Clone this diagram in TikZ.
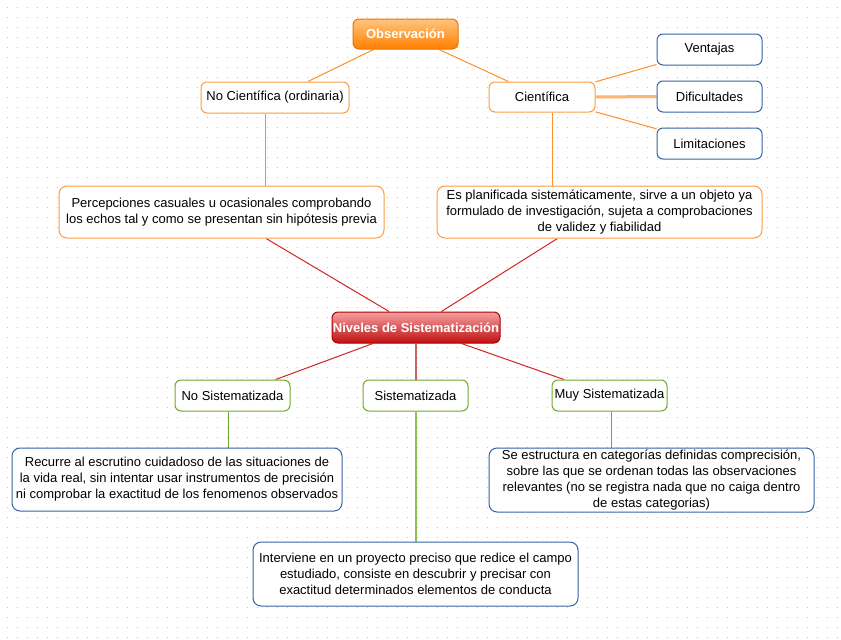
\documentclass[tikz,border=0pt]{standalone}
\usepackage{fontspec}
\setmainfont{Liberation Sans}
\usetikzlibrary{backgrounds}
\definecolor{orng}{HTML}{FF9A3C}
\definecolor{orngline}{HTML}{FF8F26}
\definecolor{orngthick}{HTML}{FFB46E}
\definecolor{obsborder}{HTML}{E87400}
\definecolor{obstop}{HTML}{FFC480}
\definecolor{obsmid}{HTML}{FF9A30}
\definecolor{obsbot}{HTML}{FF8000}
\definecolor{nivborder}{HTML}{B00000}
\definecolor{nivtop}{HTML}{F4A0A0}
\definecolor{nivmid}{HTML}{E03030}
\definecolor{nivbot}{HTML}{C01010}
\definecolor{blu}{HTML}{3563A6}
\definecolor{grn}{HTML}{6FA82C}
\definecolor{grnthick}{HTML}{8DC153}
\definecolor{redline}{HTML}{D42424}
\definecolor{redthick}{HTML}{C86464}
\definecolor{dotgray}{HTML}{C4C4C4}
\tikzset{
  base/.style={rounded corners=4.5pt, inner sep=0pt, align=center,
    font=\fontsize{9.75}{12}\selectfont, fill=white, line width=0.75pt},
  orbox/.style={base, draw=orng},
  blbox/.style={base, draw=blu},
  grbox/.style={base, draw=grn},
  bigbox/.style={rounded corners=6pt, minimum width=243.75pt},
  smallbox/.style={minimum height=23.25pt},
  obsbox/.style={base, draw=obsborder, top color=obstop, middle color=obsmid, bottom color=obsbot,
    text=white, font=\fontsize{9.75}{12}\selectfont\bfseries},
  nivbox/.style={base, draw=nivborder, top color=nivtop, middle color=nivmid, bottom color=nivbot,
    text=white, font=\fontsize{9.75}{12}\selectfont\bfseries},
  olink/.style={draw=orngline, line width=0.75pt},
  othick/.style={draw=orngthick, line width=2.25pt},
  rlink/.style={draw=redline, line width=0.75pt},
  rthick/.style={draw=redthick, line width=1.5pt},
  glink/.style={draw=grn, line width=0.75pt},
  gthick/.style={draw=grnthick, line width=1.5pt}
}
\begin{document}
\begin{tikzpicture}[x=0.75pt,y=-0.75pt]
\useasboundingbox (0,0) rectangle (841,639);
% nodes
\node[obsbox, minimum width=78.75pt, minimum height=22.5pt] (obs) at (405.5,34) {Observación};
\node[orbox, smallbox, minimum width=111pt] (nocien) at (275,97.5) {No Científica (ordinaria)};
\node[orbox, minimum width=79.5pt, minimum height=22.5pt] (cien) at (542,97) {Científica};
\node[blbox, smallbox, minimum width=78.75pt] (vent) at (709.5,49.5) {Ventajas};
\node[blbox, smallbox, minimum width=78.75pt] (dific) at (709.5,96.5) {Dificultades};
\node[blbox, smallbox, minimum width=78.75pt] (limit) at (709.5,143.5) {Limitaciones};
\node[orbox, bigbox, minimum height=39pt] (perc) at (221.5,212)
  {Percepciones casuales u ocasionales comprobando\\los echos tal y como se presentan sin hipótesis previa};
\node[orbox, bigbox, minimum height=39pt] (plan) at (599.5,212)
  {Es planificada sistemáticamente, sirve a un objeto ya\\formulado de investigación, sujeta a comprobaciones\\de validez y fiabilidad};
\node[nivbox, minimum width=126pt, minimum height=23.25pt] (niv) at (416,327.5)
  {\makebox[126pt]{Niveles de Sistematización}};
\node[grbox, smallbox, minimum width=86.25pt] (nosis) at (232.5,395.5) {No Sistematizada};
\node[grbox, smallbox, minimum width=78.75pt] (sis) at (415.5,395.5) {Sistematizada};
\node[grbox, smallbox, minimum width=86.25pt] (muy) at (609.5,395.5) {Muy Sistematizada};
\node[blbox, bigbox, minimum width=247.5pt, minimum height=47.25pt] (recu) at (177,479.5)
  {Recurre al escrutino cuidadoso de las situaciones de\\la vida real, sin intentar usar instrumentos de precisión\\ni comprobar la exactitud de los fenomenos observados};
\node[blbox, bigbox, minimum height=48pt] (estr) at (651.5,480)
  {Se estructura en categorías definidas comprecisión,\\sobre las que se ordenan todas las observaciones\\relevantes (no se registra nada que no caiga dentro\\de estas categorias)};
\node[blbox, bigbox, minimum height=48pt] (inter) at (415.5,574)
  {Interviene en un proyecto preciso que redice el campo\\estudiado, consiste en descubrir y precisar con\\exactitud determinados elementos de conducta};
\begin{scope}[on background layer]
  \fill[white] (0,0) rectangle (841,639);
  \foreach \j in {0,...,63}{
    \draw[dotgray, line width=0.75pt, dash pattern=on 0.75pt off 6.75pt]
      (6.5,7+10*\j) -- (841,7+10*\j);
  }
  % connectors
  \draw[olink] (obs) -- (nocien);
  \draw[olink] (obs) -- (cien);
  \draw[olink] (cien) -- (vent);
  \draw[othick] (cien) -- (dific);
  \draw[olink] (cien) -- (limit);
  \draw[olink] ([xshift=-7.5pt]nocien.south) -- ([xshift=-7.5pt]nocien.south |- perc.north);
  \draw[olink] ([xshift=7.5pt]cien.south) -- ([xshift=7.5pt]cien.south |- plan.north);
  \draw[rlink] (perc) -- (niv);
  \draw[rlink] (plan) -- (niv);
  \draw[rlink] (niv) -- (nosis);
  \draw[rthick] (niv.south) -- (niv.south |- sis.north);
  \draw[rlink] (niv) -- (muy);
  \draw[glink] ([xshift=-3pt]nosis.south) -- ([xshift=-3pt]nosis.south |- recu.north);
  \draw[gthick] (sis.south) -- (sis.south |- inter.north);
  \draw[glink] ([xshift=1.5pt]muy.south) -- ([xshift=1.5pt]muy.south |- estr.north);
\end{scope}
\end{tikzpicture}
\end{document}
